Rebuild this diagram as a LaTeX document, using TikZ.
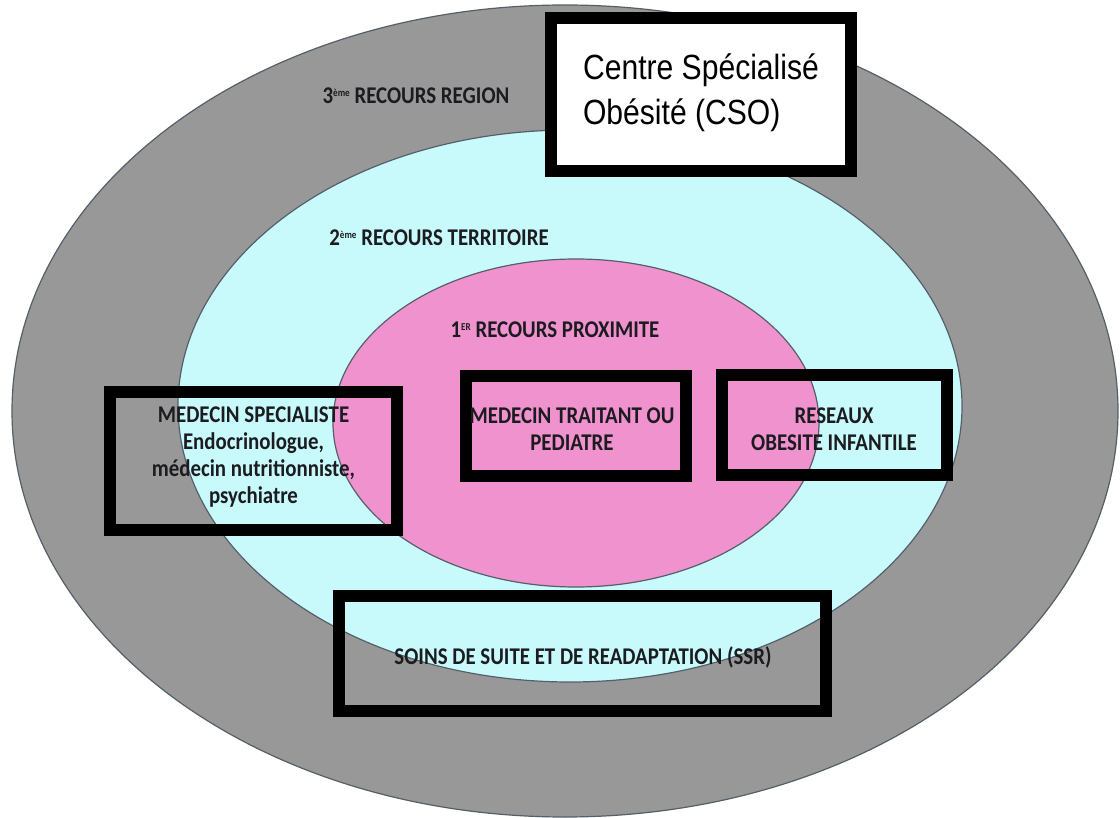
\documentclass[tikz,border=0pt]{standalone}
\usepackage{fontspec}
\newfontfamily\labelfont[FakeStretch=0.87]{Carlito}
\newfontfamily\titlefont[FakeStretch=0.86]{Liberation Sans}
\definecolor{regiongrey}{RGB}{152,152,152}
\definecolor{territoire}{RGB}{200,250,252}
\definecolor{proximite}{RGB}{240,146,206}
\definecolor{rim}{RGB}{85,95,105}
\definecolor{ink}{RGB}{28,28,32}
\newcommand\expo[1]{\raisebox{0.62ex}{\fontsize{10.5}{10.5}\selectfont #1}}
\tikzset{
  zone/.style={draw=rim, line width=1.2pt},
  level/.style={font=\labelfont\bfseries\fontsize{24}{27}\selectfont, text=ink, inner sep=0pt, anchor=base},
  frame/.style={draw=black, line width=12pt, inner sep=0pt},
  boxtext/.style={font=\labelfont\bfseries\fontsize{24}{27}\selectfont, text=ink, align=center, inner sep=0pt}
}
\begin{document}
\begin{tikzpicture}[x=1pt,y=-1pt]
\useasboundingbox (0,0) rectangle (1120,818);
\fill[white] (0,0) rectangle (1120,818);

% nested levels of care
\draw[zone, fill=regiongrey] (565,411) ellipse [x radius=553, y radius=406];
\draw[zone, fill=territoire] (570,406) ellipse [x radius=392, y radius=276];
\draw[zone, fill=proximite] (576,423) ellipse [x radius=243, y radius=164];

% level captions
\node[level] (l3) at (416,104) {3\expo{ème} RECOURS REGION};
\node[level] (l2) at (439,246) {2\expo{ème} RECOURS TERRITOIRE};
\node[level] (l1) at (555,338) {1\expo{ER} RECOURS PROXIMITE};

% framed actors
\node[frame, fill=white, minimum width=300pt, minimum height=153pt] (cso) at (701,94.5) {};
\node[font=\titlefont\fontsize{35}{45}\selectfont, align=left, inner sep=0pt] (csotxt) at (701,93) {Centre Spécialisé\\Obésité (CSO)};

\node[frame, minimum width=287pt, minimum height=138pt] (spec) at (253.5,461) {};
\node[boxtext] (spectxt) at (253.5,457) {MEDECIN SPECIALISTE\\Endocrinologue,\\médecin nutritionniste,\\psychiatre};

\node[frame, minimum width=220pt, minimum height=100pt] (mt) at (576,426) {};
\node[boxtext] (mttxt) at (572,429) {MEDECIN TRAITANT OU\\PEDIATRE};

\node[frame, minimum width=225pt, minimum height=100pt] (res) at (834.5,425) {};
\node[boxtext] (restxt) at (834,429) {RESEAUX\\OBESITE INFANTILE};

\node[frame, minimum width=487pt, minimum height=115pt] (ssr) at (582.5,653.5) {};
\node[boxtext] (ssrtxt) at (583,657) {SOINS DE SUITE ET DE READAPTATION (SSR)};
\end{tikzpicture}
\end{document}
